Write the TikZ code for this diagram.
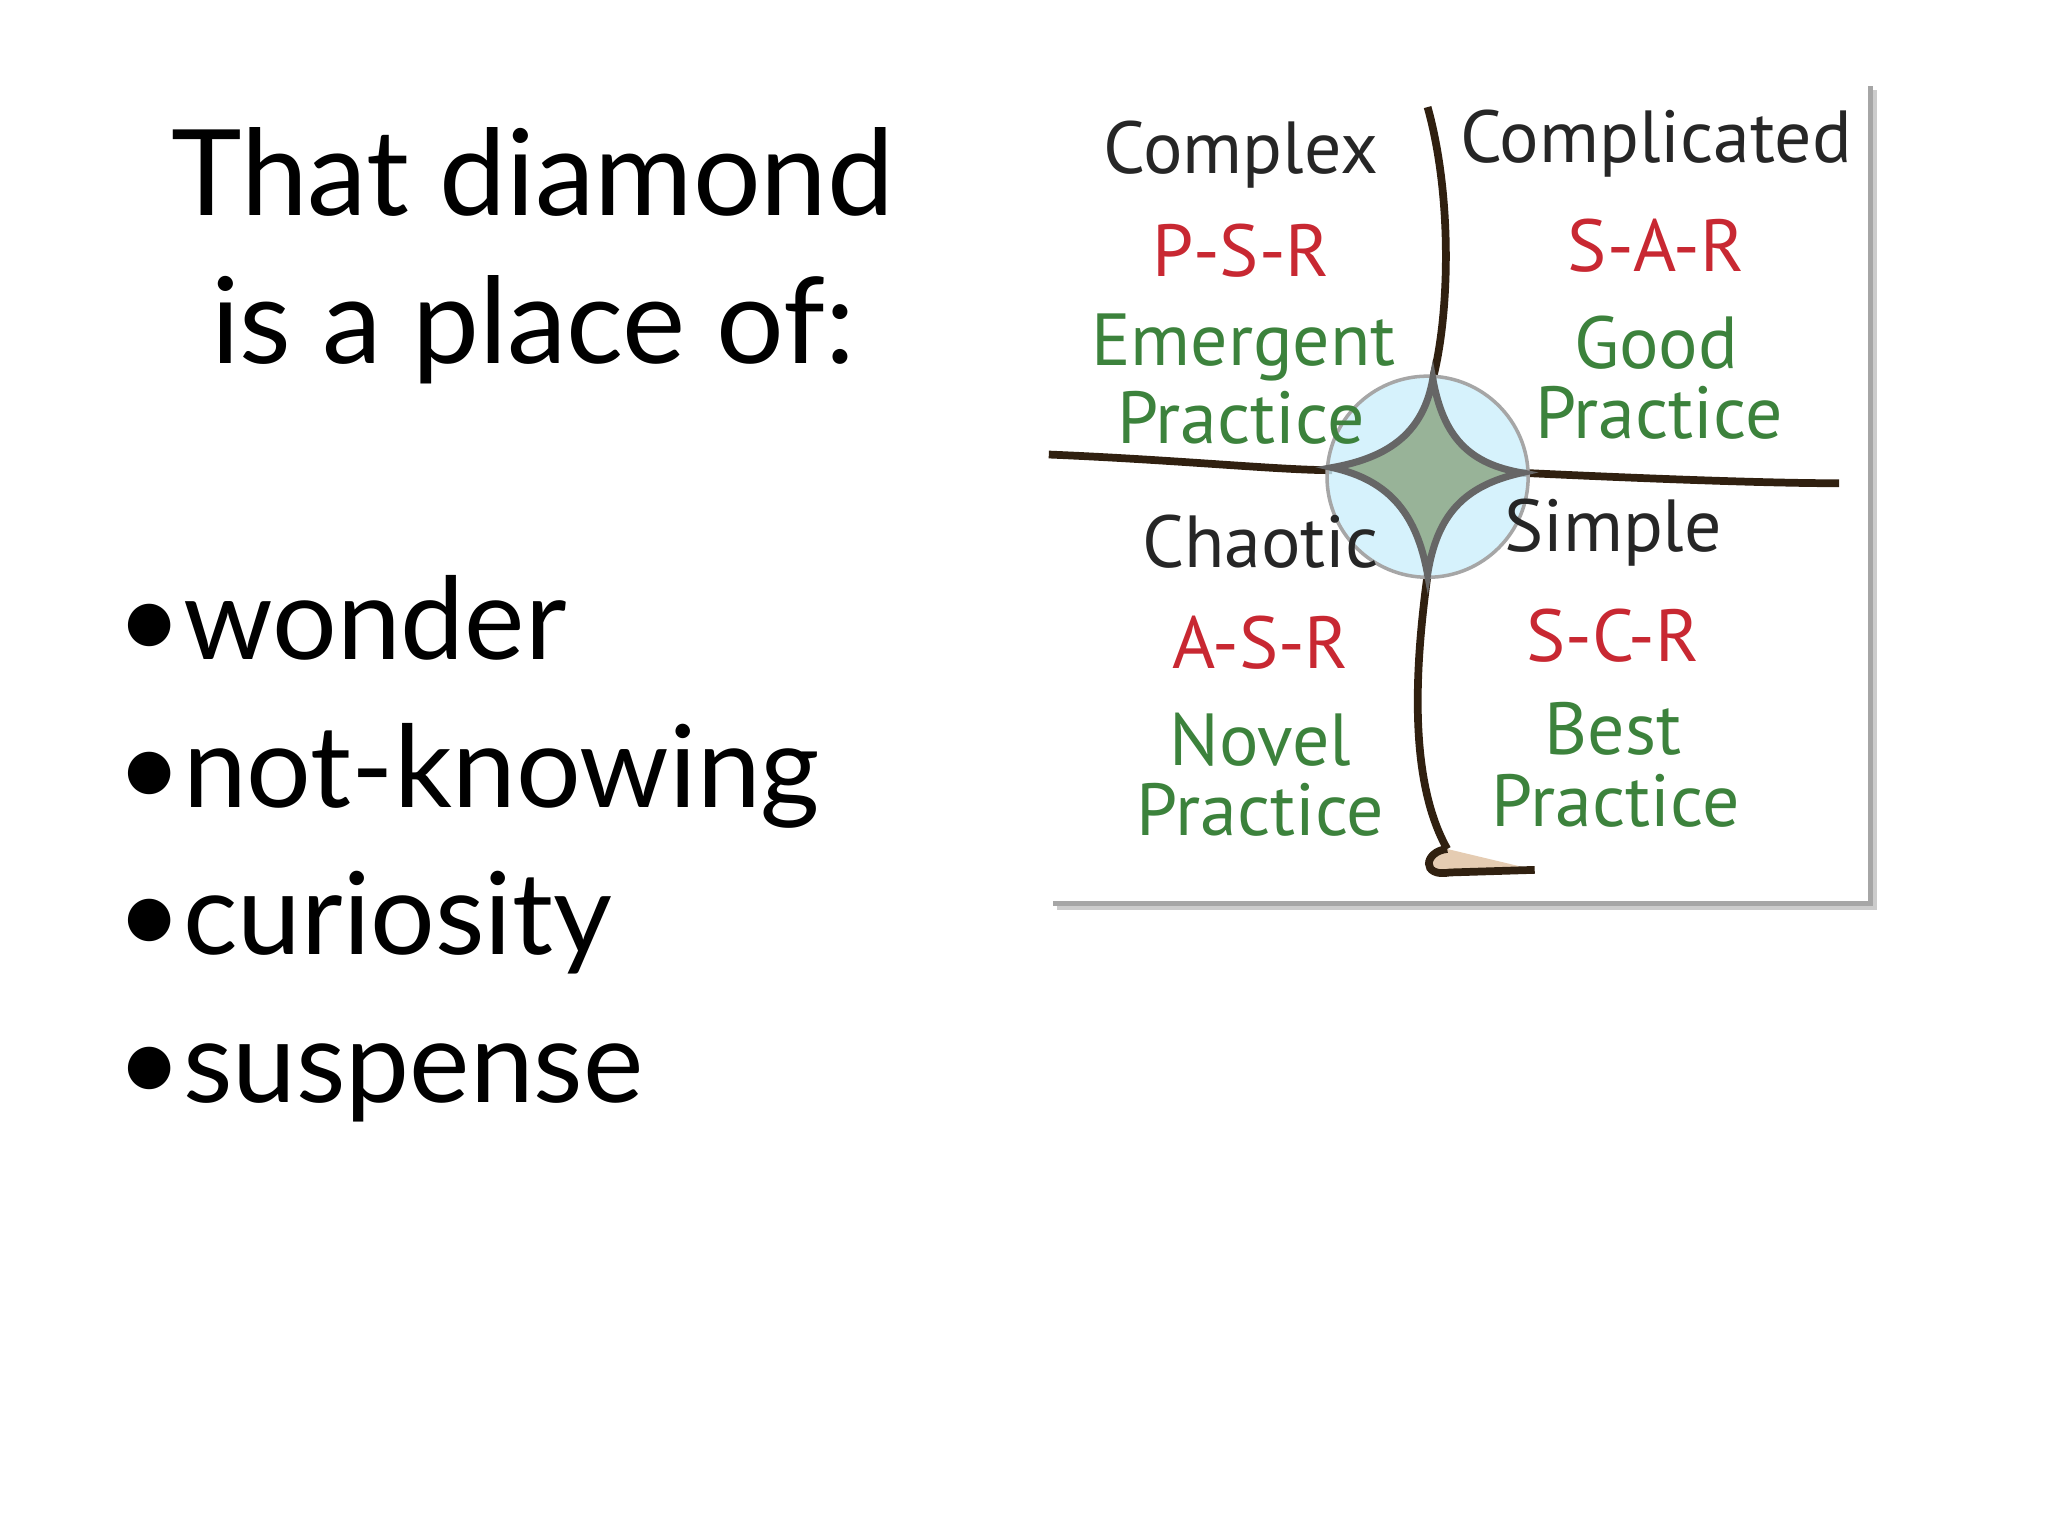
\documentclass[tikz,border=0pt]{standalone}
\usepackage{fontspec}
\setmainfont{Lato}
\newfontfamily\hand{PT Sans}
\definecolor{hred}{RGB}{200,40,50}
\definecolor{hgreen}{RGB}{60,130,60}
\begin{document}
\begin{tikzpicture}[x=0.013061cm,y=-0.013061cm,
  big/.style={font=\fontsize{34}{40}\selectfont,anchor=base},
  bul/.style={font=\fontsize{32.5}{40}\selectfont,anchor=base west},
  lbl/.style={font=\hand\fontsize{21}{22}\selectfont,inner sep=1pt},
  blk/.style={lbl,text=black!85},
  red/.style={lbl,text=hred},
  grn/.style={lbl,text=hgreen},
  ln/.style={line width=2.2pt,draw=black!75!brown}]
\useasboundingbox (0,0) rectangle (1568,1176);
\node[big] (t1) at (408,165) {That diamond};
\node[big] (t2) at (408,278) {is a place of:};
\node[bul] (b1) at (80,505) {•wonder};
\node[bul] (b2) at (80,618) {•not-knowing};
\node[bul] (b3) at (80,731) {•curiosity};
\node[bul] (b4) at (80,844) {•suspense};
% panel
\fill[black!20] (809,69) rectangle (1437,697);
\fill[black!35] (806,66) rectangle (1434,694);
\fill[white] (802,62) rectangle (1430,690);
\draw[ln] (1093,82) .. controls (1112,150) and (1110,240) .. (1097,290);
\draw[ln] (1093,440) .. controls (1082,520) and (1080,600) .. (1108,650);
\draw[ln,fill=brown!40] (1108,650) .. controls (1090,652) and (1088,672) .. (1110,668) -- (1175,666);
\draw[ln] (803,348) .. controls (900,352) and (980,360) .. (1020,360);
\draw[ln] (1165,362) .. controls (1250,366) and (1350,370) .. (1408,370);
\fill[cyan!20,opacity=0.8] (1093,365) circle (77);
\draw[black!35,line width=1pt] (1093,365) circle (77);
\draw[black!60,line width=2pt,fill=green!15!gray!70] (1097,290) .. controls (1105,335) and (1125,355) .. (1165,362)
 .. controls (1120,372) and (1100,395) .. (1093,440) .. controls (1085,395) and (1065,368) .. (1020,358)
 .. controls (1065,350) and (1090,330) .. (1097,290) -- cycle;
\node[blk] (c1) at (950,118) {Complex};
\node[red] (c2) at (950,192) {P-S-R};
\node[grn] (c3) at (952,266) {Emergent};
\node[grn] (c4) at (950,320) {Practice};
\node[blk] (d1) at (1268,110) {Complicated};
\node[red] (d2) at (1268,188) {S-A-R};
\node[grn] (d3) at (1268,262) {Good};
\node[grn] (d4) at (1270,316) {Practice};
\node[blk] (e1) at (965,415) {Chaotic};
\node[red] (e2) at (965,492) {A-S-R};
\node[grn] (e3) at (965,566) {Novel};
\node[grn] (e4) at (965,620) {Practice};
\node[blk] (f1) at (1235,408) {Simple};
\node[red] (f2) at (1235,487) {S-C-R};
\node[grn] (f3) at (1235,558) {Best};
\node[grn] (f4) at (1237,613) {Practice};
\end{tikzpicture}
\end{document}
